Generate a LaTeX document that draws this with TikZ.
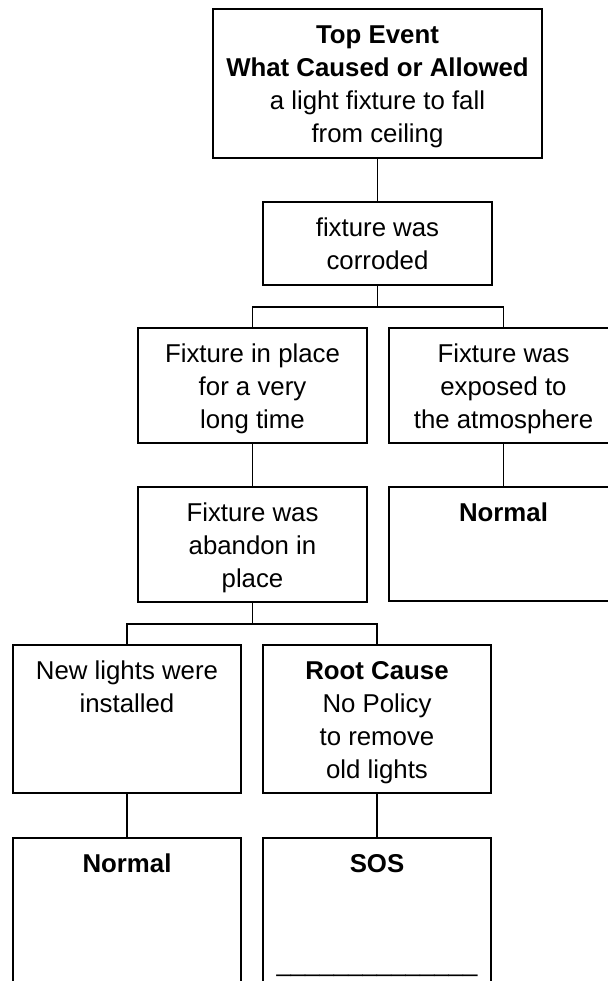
\documentclass[tikz,border=0pt]{standalone}
\usepackage{fontspec}
\setmainfont{Liberation Sans}
\usepackage{tikz}

% Kasten mit Text oben: Breite, Hoehe, Inhalt
\newcommand{\evttext}[3]{\parbox[c][#2][t]{#1}{\centering\vspace*{5.5pt}\strut#3}}

\begin{document}
\begin{tikzpicture}[%
    x=0.5pt, y=-0.5pt,
    font=\fontsize{12.9pt}{16.5pt}\selectfont,
    evt/.style={draw, line width=1pt, inner sep=0pt, anchor=north west},
    link/.style={line width=0.8pt}
    ]
        \useasboundingbox (0,0) rectangle (608,981);
        \clip (0,0) rectangle (608,981);

        \tikzset{
            gabel/.style={link, rounded corners=0pt} % Verzweigung
        }

        % Ereignisse
        \node[evt] (top) at (212,8)
            {\evttext{164.5pt}{74.5pt}{\textbf{Top Event}\\\textbf{What Caused or Allowed}\\a light fixture to fall\\from ceiling}};
        \node[evt] (corr) at (262,201)
            {\evttext{114.5pt}{41.5pt}{fixture was\\corroded}};
        \node[evt] (inplace) at (137,327)
            {\evttext{114.5pt}{57.5pt}{Fixture in place\\for a very\\long time}};
        \node[evt] (exposed) at (388,327)
            {\evttext{114.5pt}{57.5pt}{Fixture was\\exposed to\\the atmosphere}};
        \node[evt] (abandon) at (137,486)
            {\evttext{114.5pt}{57.5pt}{Fixture was\\abandon in\\place}};
        \node[evt] (normA) at (388,486)
            {\evttext{114.5pt}{57pt}{\textbf{Normal}}};
        \node[evt] (newlights) at (12,644)
            {\evttext{114pt}{74pt}{New lights were\\installed}};
        \node[evt] (root) at (262,644)
            {\evttext{114pt}{74pt}{\textbf{Root Cause}\\No Policy\\to remove\\old lights}};
        \node[evt] (normB) at (12,837)
            {\evttext{114pt}{85pt}{\textbf{Normal}}};
        \node[evt] (sos) at (262,837)
            {\evttext{114pt}{85pt}{\textbf{SOS}\\~\\~\\\_\_\_\_\_\_\_\_\_\_\_\_\_\_}};

        % Verbindungen
        \draw[link] (top.south) -- (corr.north);
        \draw[gabel] (corr.south) -- ++(0,21) -| (inplace.north);
        \draw[gabel] (corr.south) -- ++(0,21) -| (exposed.north);
        \draw[link] (inplace.south) -- (abandon.north);
        \draw[link] (exposed.south) -- (normA.north);
        \draw[gabel] (abandon.south) -- ++(0,21) -| (newlights.north);
        \draw[gabel] (abandon.south) -- ++(0,21) -| (root.north);
        \draw[link] (newlights.south) -- (normB.north);
        \draw[link] (root.south) -- (sos.north);
    \end{tikzpicture}
\end{document}
